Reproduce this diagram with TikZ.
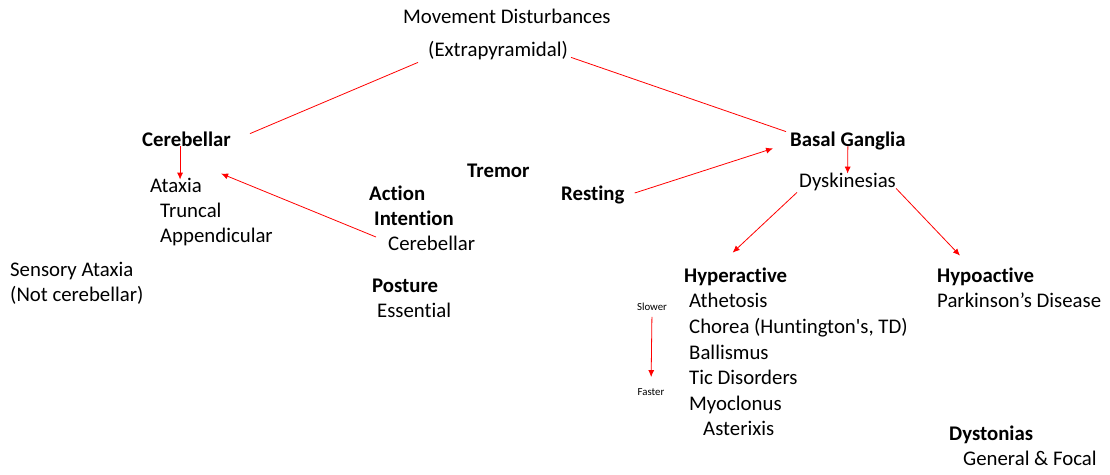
\documentclass[tikz,border=0pt]{standalone}
\usepackage{fontspec}
\setmainfont{Carlito}[Ligatures=NoCommon]
\usepackage{tikz}
\usetikzlibrary{arrows.meta}

\begin{document}
\begin{tikzpicture}[>={Latex[length=7pt,width=6pt]}, x=1pt, y=-1pt,
    lbl/.style={anchor=west, inner sep=0pt, text height=0.64em, text depth=0pt,
        font=\fontsize{20.8}{25}\selectfont},
    hd/.style={lbl, font=\fontsize{20.8}{25}\selectfont\bfseries},
    tiny/.style={inner sep=0pt, text height=0.64em, text depth=0pt,
        font=\fontsize{10.8}{13}\selectfont},
    link/.style={red, line width=0.8pt},
    arr/.style={link, ->}]

    \useasboundingbox (0,0) rectangle (1110,474);

    \draw(403,20) node[lbl] (mov) {Movement Disturbances};
    \draw(428,53) node[lbl] (ext) {(Extrapyramidal)};

    \draw(142,143) node[hd] (cer) {Cerebellar};
    \draw(150,189) node[lbl] (atx) {Ataxia};
    \draw(160,214) node[lbl] (trc) {Truncal};
    \draw(160,239) node[lbl] (app) {Appendicular};
    \draw(10,273) node[lbl] (sen) {Sensory Ataxia};
    \draw(10,298) node[lbl] (notc) {(Not cerebellar)};

    \draw(467,174) node[hd] (trem) {Tremor};
    \draw(369,197) node[hd] (act) {Action};
    \draw(374,222) node[hd] (int) {Intention};
    \draw(388,247) node[lbl] (icer) {Cerebellar};
    \draw(372,289) node[hd] (pos) {Posture};
    \draw(377,314) node[lbl] (ess) {Essential};
    \draw(561,197) node[hd] (rest) {Resting};

    \draw(790,143) node[hd] (bg) {Basal Ganglia};
    \draw(799,184) node[lbl] (dys) {Dyskinesias};

    \draw(684,279) node[hd] (hyper) {Hyperactive};
    \draw(689,304) node[lbl] (ath) {Athetosis};
    \draw(689,330) node[lbl] (cho) {Chorea (Huntington\textquotesingle s, TD)};
    \draw(689,356) node[lbl] (bal) {Ballismus};
    \draw(689,381) node[lbl] (tic) {Tic Disorders};
    \draw(689,407) node[lbl] (myo) {Myoclonus};
    \draw(703,432) node[lbl] (ast) {Asterixis};
    \draw(652,307) node[tiny] (slow) {Slower};
    \draw(651,392) node[tiny] (fast) {Faster};

    \draw(937,279) node[hd] (hypo) {Hypoactive};
    \draw(937,304) node[lbl] (park) {Parkinson’s Disease};
    \draw(949,437) node[hd] (dyst) {Dystonias};
    \draw(963,462) node[lbl] (genf) {General \& Focal};

    \draw[link] ([xshift=-10pt,yshift=-6pt]ext.south west) -- ([xshift=19pt,yshift=6pt]cer.north east);
    \draw[link] ([xshift=3pt,yshift=-1pt]ext.south east) -- ([xshift=-4pt,yshift=8pt]bg.north west);

    \draw[arr, shorten >=6pt] ([xshift=4pt]cer.south -| atx.north) -- ([xshift=4pt]atx.north);
    \draw[arr] ([xshift=-12pt,yshift=10pt]icer.west) -- ([xshift=19pt,yshift=12pt]atx.north east);
    \draw[arr] ([xshift=10pt,yshift=4pt]rest.east) -- ([xshift=-17pt,yshift=-2pt]bg.south west);
    \draw[arr, shorten >=7pt] (bg.south) -- (dys.north);
    \draw[arr] ([xshift=-2pt,yshift=-5pt]dys.south west) -- ([xshift=-3pt,yshift=23pt]hyper.north);
    \draw[arr] ([yshift=-1pt]dys.south east) -- ([xshift=23pt,yshift=20pt]hypo.north west);
    \draw[arr, shorten <=6.5pt, shorten >=11.5pt] (slow.south) -- (fast.north);

\end{tikzpicture}
\end{document}
